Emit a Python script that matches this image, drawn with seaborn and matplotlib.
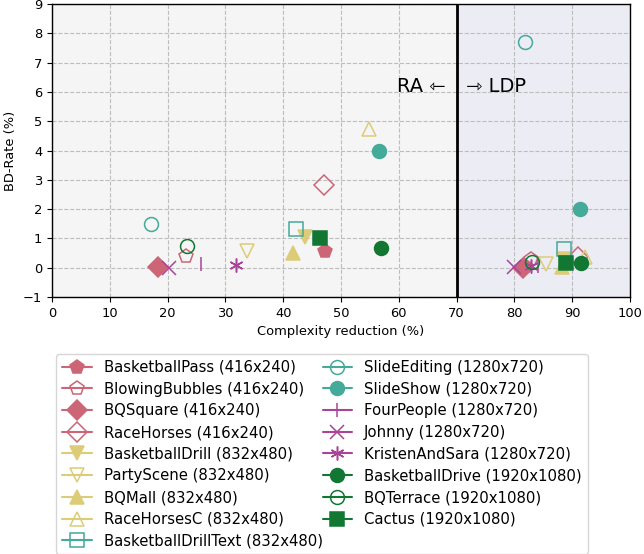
import matplotlib
matplotlib.use('Agg')
import matplotlib.pyplot as plt
import seaborn as sns

# sequences and their BD-rate / complexity reduction for RA and LDP
names = ['BasketballPass (416x240)', 'BlowingBubbles (416x240)', 'BQSquare (416x240)',
         'RaceHorses (416x240)', 'BasketballDrill (832x480)', 'PartyScene (832x480)',
         'BQMall (832x480)', 'RaceHorsesC (832x480)', 'BasketballDrillText (832x480)',
         'SlideEditing (1280x720)', 'SlideShow (1280x720)', 'FourPeople (1280x720)',
         'Johnny (1280x720)', 'KristenAndSara (1280x720)', 'BasketballDrive (1920x1080)',
         'BQTerrace (1920x1080)', 'Cactus (1920x1080)']
ra_x = [47.2, 23.1, 18.3, 47.0, 43.7, 33.8, 41.7, 54.8, 42.3, 17.2, 56.5, 25.7, 20.2, 31.9, 56.9, 23.4, 46.3]
ra_y = [0.56, 0.41, 0.02, 2.81, 1.05, 0.56, 0.50, 4.75, 1.33, 1.50, 3.98, 0.14, 0.00, 0.09, 0.67, 0.75, 1.00]
ldp_x = [81.9, 82.8, 81.5, 91.0, 88.6, 85.5, 88.2, 92.3, 88.5, 81.8, 91.3, 84.0, 80.0, 82.8, 91.5, 83.0, 88.9]
ldp_y = [0.05, 0.30, -0.02, 0.38, 0.30, 0.12, 0.02, 0.38, 0.64, 7.70, 2.00, 0.05, 0.02, 0.05, 0.17, 0.21, 0.17]

rose, sand, teal, purple, green = '#CC6677', '#DDCC77', '#44AA99', '#AA4499', '#117733'
colors = [rose] * 4 + [sand] * 4 + [teal] * 3 + [purple] * 3 + [green] * 3
markers = ['p', 'p', 'D', 'D', 'v', 'v', '^', '^', 's', 'o', 'o', '|', 'x', (6, 2, 0), 'o', 'o', 's']
filled = [True, False, True, False, True, False, True, False, False, False, True, True, True, True, True, False, True]

sns.set_style('whitegrid', {
    'axes.facecolor': '#f5f5f5',
    'axes.edgecolor': 'black',
    'axes.labelcolor': 'black',
    'text.color': 'black',
    'xtick.color': 'black',
    'ytick.color': 'black',
    'grid.color': '#bdbdbd',
    'grid.linestyle': '--',
    'xtick.bottom': True,
    'ytick.left': True,
})
plt.rcParams['xtick.major.size'] = 3.5
plt.rcParams['ytick.major.size'] = 3.5
plt.rcParams['grid.linewidth'] = 0.8

fig = plt.figure(figsize=(6.44, 5.54), dpi=100)
ax = fig.add_axes([52 / 644, 1 - 297 / 554, 578 / 644, 293 / 554])
ax.axvspan(70, 100, color='#ececf5', zorder=0, lw=0)

handles = []
for i, name in enumerate(names):
    fc = colors[i] if filled[i] else 'none'
    for xs, ys in [(ra_x, ra_y), (ldp_x, ldp_y)]:
        sns.lineplot(x=[xs[i]], y=[ys[i]], ax=ax, color=colors[i], marker=markers[i],
                     markersize=10, markerfacecolor=fc, markeredgecolor=colors[i],
                     markeredgewidth=1.1, legend=False)
    handles.append(ax.lines[-1])

ax.axvline(70, color='black', lw=2, zorder=3)
ax.text(68.2, 6.2, 'RA \u21fd', ha='right', va='center', fontsize=14)
ax.text(71.6, 6.2, '\u21fe LDP', ha='left', va='center', fontsize=14)

ax.set_xlim(0, 100)
ax.set_ylim(-1, 9)
ax.set_xticks(range(0, 101, 10))
ax.set_yticks(range(-1, 10))
ax.tick_params(labelsize=9.4, colors='black')
ax.set_xlabel('Complexity reduction (%)', fontsize=9.4)
ax.set_ylabel('BD-Rate (%)', fontsize=9.4)
for sp in ax.spines.values():
    sp.set_color('black')
    sp.set_linewidth(1.0)

ax.legend(handles, names, ncol=2, loc='upper left', fontsize=10.7,
          bbox_to_anchor=(56 / 644, 1 - 354 / 554), bbox_transform=fig.transFigure,
          borderaxespad=0, columnspacing=0.0, labelspacing=0.45, frameon=True,
          facecolor='white', edgecolor='#cccccc')

fig.savefig('out.png', dpi=100)
